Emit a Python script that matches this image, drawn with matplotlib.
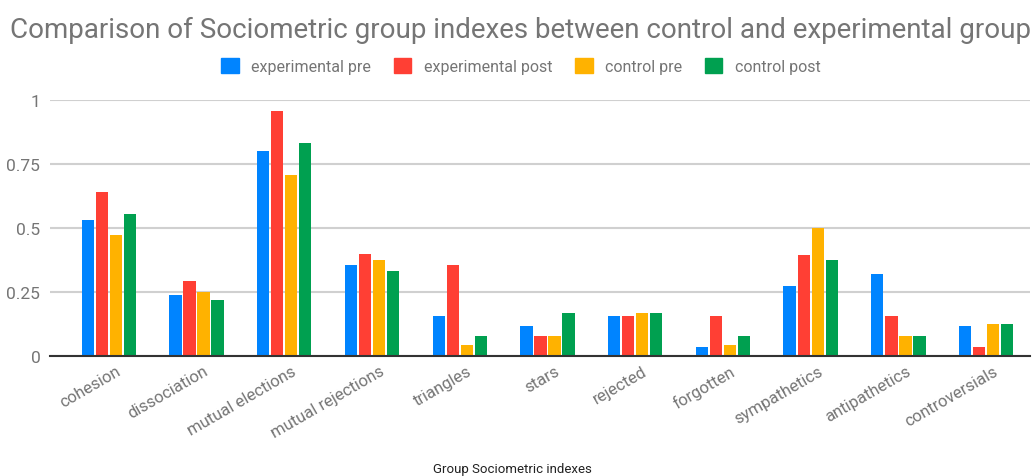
import numpy as np
import matplotlib
matplotlib.use("Agg")
import matplotlib.pyplot as plt
from matplotlib.patches import Patch

plt.rcParams['font.family'] = ['Roboto', 'DejaVu Sans']

categories = ['cohesion', 'dissociation', 'mutual elections', 'mutual rejections',
              'triangles', 'stars', 'rejected', 'forgotten', 'sympathetics',
              'antipathetics', 'controversials']
series_names = ['experimental pre', 'experimental post', 'control pre', 'control post']

exp_pre = [0.53, 0.237, 0.80, 0.357, 0.155, 0.119, 0.155, 0.037, 0.275, 0.32, 0.119]
exp_post = [0.64, 0.292, 0.957, 0.397, 0.357, 0.08, 0.155, 0.155, 0.396, 0.155, 0.037]
ctrl_pre = [0.473, 0.25, 0.706, 0.374, 0.042, 0.08, 0.167, 0.042, 0.50, 0.08, 0.125]
ctrl_post = [0.553, 0.22, 0.832, 0.331, 0.08, 0.167, 0.167, 0.08, 0.374, 0.08, 0.125]

y_ticks = [0, 0.25, 0.5, 0.75, 1]
y_tick_labels = ['0', '0.25', '0.5', '0.75', '1']

colors = ['#0084FF', '#FF3F34', '#FFB200', '#00A050']
grey = '#757575'

fig = plt.figure(figsize=(10.35, 4.77), dpi=100)
ax = fig.add_axes([50 / 1035, 120 / 477, 980 / 1035, 256 / 477])

x = np.arange(len(categories))
pitch = 0.16
width = 0.14
for i, (vals, col) in enumerate(zip([exp_pre, exp_post, ctrl_pre, ctrl_post], colors)):
    ax.bar(x + (i - 1.5) * pitch, vals, width=width, color=col, zorder=3)

ax.set_xlim(-0.67, 10.5)
ax.set_ylim(0, 1)
ax.set_yticks(y_ticks)
ax.set_yticklabels(y_tick_labels, color=grey, fontsize=12.5)
ax.yaxis.grid(True, color='#d0d0d0', linewidth=1.5, zorder=0)
ax.tick_params(axis='y', length=0, pad=7)
ax.tick_params(axis='x', length=0, pad=5)
ax.set_xticks(x + 0.08)
ax.set_xticklabels(categories, rotation=30, ha='right', rotation_mode='anchor',
                   color=grey, fontsize=12)
for side in ['top', 'right', 'left']:
    ax.spines[side].set_visible(False)
ax.spines['bottom'].set_color('#333333')
ax.spines['bottom'].set_linewidth(1.5)
ax.spines['bottom'].set_zorder(4)

fig.text(10 / 1035, 1 - 30 / 477, 'Comparison of Sociometric group indexes between control and experimental group',
         fontsize=20, color=grey, ha='left', va='center')

handles = [Patch(facecolor=c, edgecolor=c) for c in colors]
fig.legend(handles, series_names, loc='center', bbox_to_anchor=(521 / 1035, 1 - 67 / 477),
           ncol=4, frameon=False, fontsize=11.5, labelcolor=grey,
           handlelength=1.1, handleheight=1.1, handletextpad=0.8, columnspacing=1.4)

fig.text(512 / 1035, 1 - 470 / 477, 'Group Sociometric indexes', fontsize=9.5,
         color='#222222', ha='center', va='center')

fig.savefig('out.png', dpi=100, facecolor='white')
